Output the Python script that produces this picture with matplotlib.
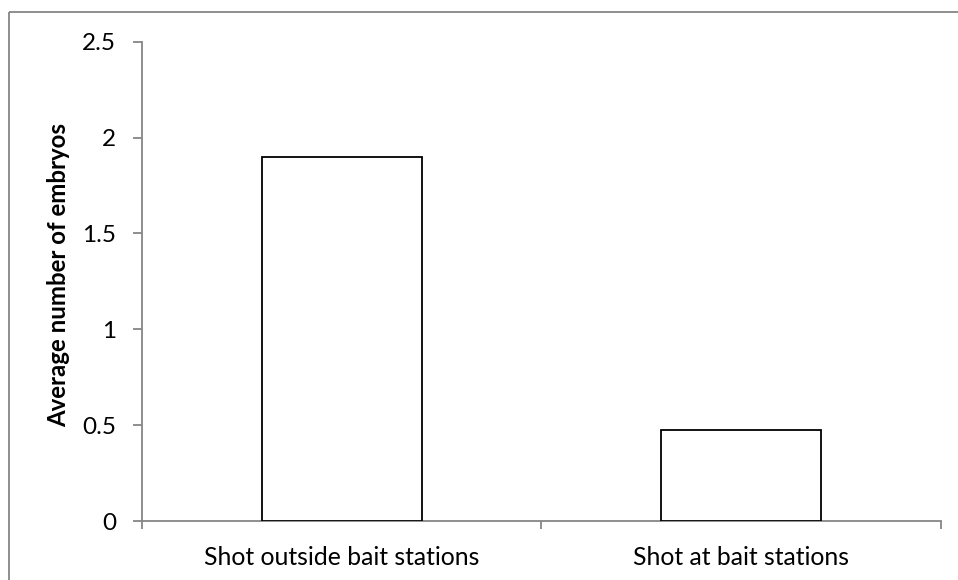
import numpy as np
import matplotlib.pyplot as plt
from matplotlib.patches import Rectangle

categories = ['Shot outside bait stations', 'Shot at bait stations']
embryos = [1.9, 0.475]
y_ticks = [0, 0.5, 1, 1.5, 2, 2.5]
y_tick_labels = ['0', '0.5', '1', '1.5', '2', '2.5']

plt.rcParams['font.family'] = ['Lato', 'DejaVu Sans']

W, H = 958, 580
fig = plt.figure(figsize=(W / 100, H / 100), dpi=100)

# outer chart-area border (runs off the right and bottom edge)
fig.patches.append(Rectangle((9 / W, 1 - 12 / H), 1.2, -1.2,
                             transform=fig.transFigure, fill=False,
                             edgecolor='#868686', linewidth=1.3))

ax = fig.add_axes([142 / W, (H - 521) / H, (940.7 - 142) / W, (521 - 41.7) / H])
grey = '#868686'

x = np.arange(len(categories))
ax.bar(x, embryos, width=0.4, color='white', edgecolor='black', linewidth=1.3, zorder=3)

ax.set_xlim(-0.5, len(categories) - 0.5)
ax.set_ylim(0, 2.5)
ax.set_yticks(y_ticks)
ax.set_yticklabels(y_tick_labels, fontsize=17.5)

# categories sit between ticks placed at category boundaries
ax.set_xticks(np.arange(len(categories) + 1) - 0.5)
ax.set_xticklabels([])
ax.set_xticks(x, minor=True)
ax.set_xticklabels(categories, minor=True, fontsize=17.8)
ax.tick_params(axis='x', which='minor', length=0, pad=18)
ax.tick_params(axis='x', which='major', length=6, width=1.3, color=grey)
ax.tick_params(axis='y', length=6.5, width=1.3, color=grey, pad=12)

for side in ['top', 'right']:
    ax.spines[side].set_visible(False)
for side in ['left', 'bottom']:
    ax.spines[side].set_color(grey)
    ax.spines[side].set_linewidth(1.3)

ax.set_ylabel('Average number of embryos', fontsize=17.3, fontweight='bold')
ax.yaxis.set_label_coords(-0.09, 0.513)

plt.savefig('out.png', dpi=100)
